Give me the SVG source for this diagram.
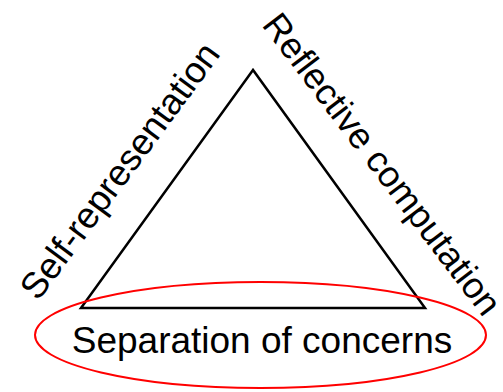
<svg xmlns="http://www.w3.org/2000/svg" width="503" height="392" viewBox="0 0 503 392">
<style>
.t{font-family:"Liberation Sans",Arial,sans-serif;fill:#000}
</style>
<rect width="503" height="392" fill="#fff"/>
<g id="connectors">
<polygon id="triangle" points="253,70 81,308 425,308" fill="none" stroke="#000" stroke-width="2.5"/>
</g>
<g id="self-representation">
<text class="t" font-size="36.5" transform="translate(38,302) rotate(-53.5)">Self-representation</text>
</g>
<g id="reflective-computation">
<text class="t" font-size="36.4" transform="translate(261,25) rotate(52.8)">Reflective computation</text>
</g>
<g id="separation-of-concerns">
<ellipse cx="260.5" cy="335" rx="225.5" ry="53" fill="none" stroke="#f00" stroke-width="2"/>
<text class="t" font-size="37" x="262" y="353" text-anchor="middle">Separation of concerns</text>
</g>
</svg>
